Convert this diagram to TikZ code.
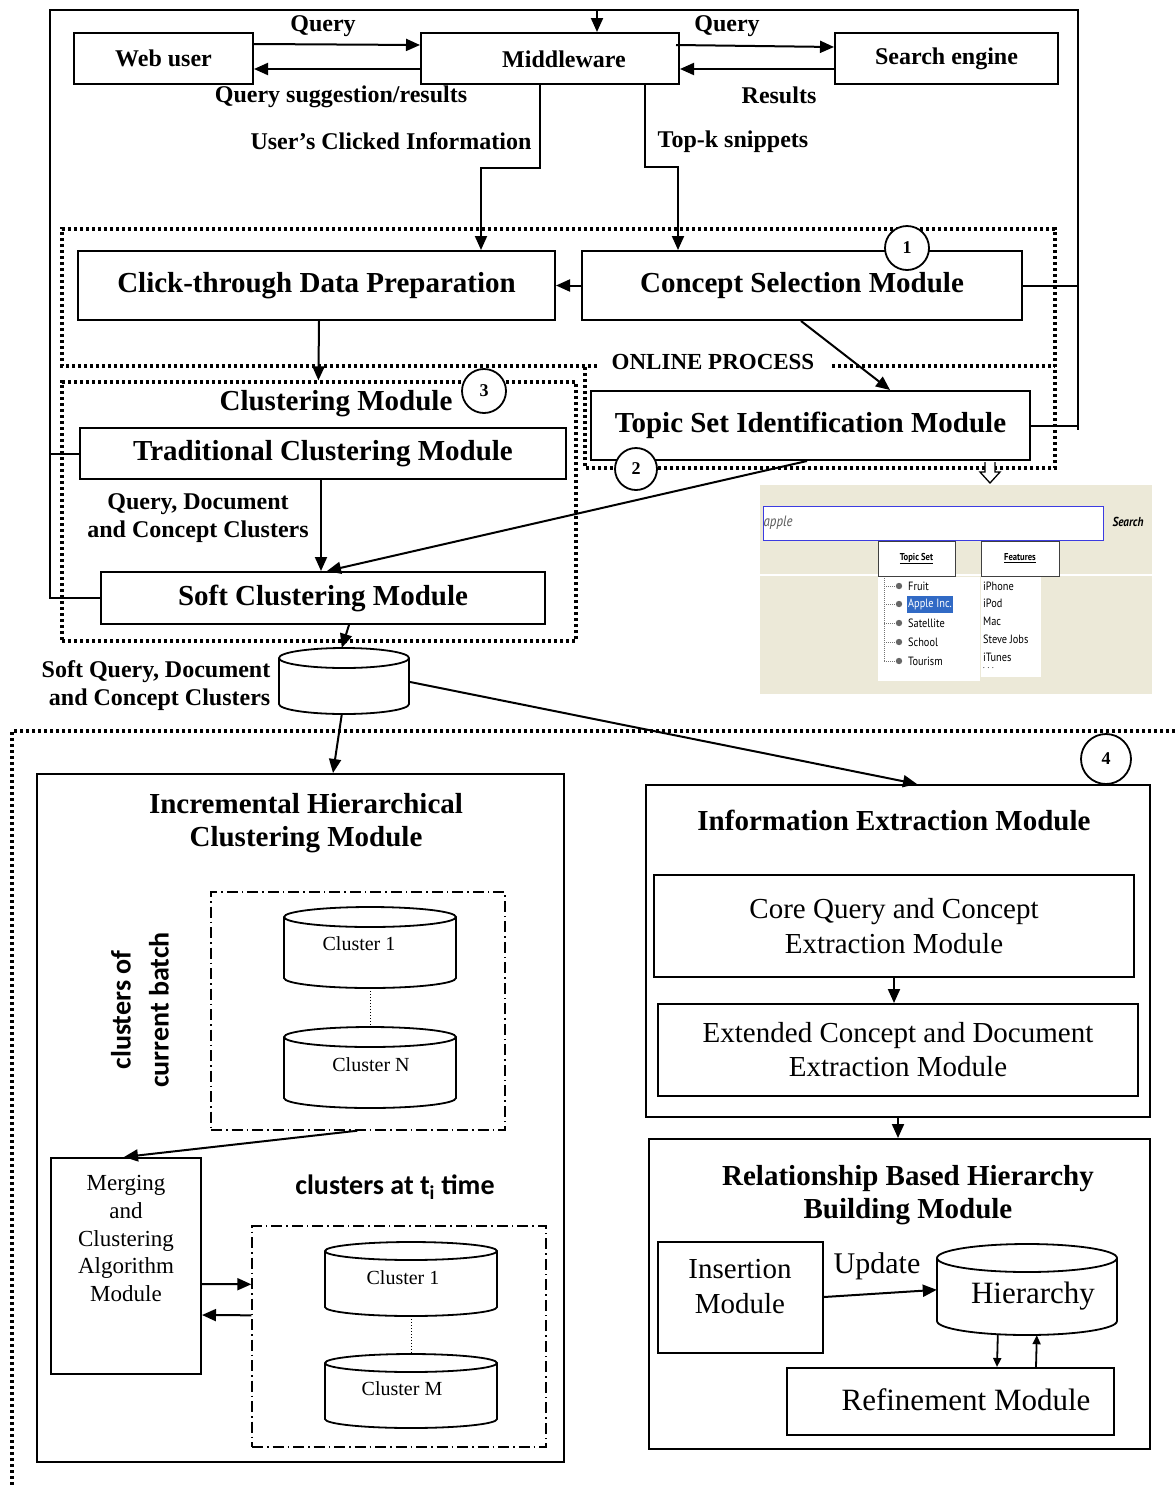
\documentclass[tikz,border=0pt]{standalone}
\usepackage{fontspec}
\setmainfont{Liberation Serif}
\newfontfamily\calfont{Carlito}
\newfontfamily\uifont[FakeStretch=0.86]{PT Sans}
\usetikzlibrary{arrows.meta,calc,fit}

\newcommand{\setfs}[2]{\fontsize{#1}{#2}\selectfont}
\definecolor{shotbg}{RGB}{236,233,216}
\definecolor{shotblue}{RGB}{60,60,225}
\definecolor{hiblue}{RGB}{49,106,197}

% cylinder: name, left, top, right, bottom, half-height of the end ellipse
\newcommand{\drum}[6]{%
  \pgfmathsetmacro{\drx}{(#4-#2)/2}%
  \draw[drumline] (#2,{#3+#6}) -- (#2,{#5-#6})
     arc[start angle=180, end angle=0, x radius=\drx, y radius=#6]
     -- (#4,{#3+#6})
     arc[start angle=0, end angle=-180, x radius=\drx, y radius=#6] -- cycle;
  \draw[drumline] (#2,{#3+#6}) arc[start angle=180, end angle=0, x radius=\drx, y radius=#6];
  \path (#2,#3) coordinate (#1-nw) (#4,#5) coordinate (#1-se);
  \node[fit=(#1-nw)(#1-se), inner sep=0] (#1) {};
}

\begin{document}
\begin{tikzpicture}[x=1pt,y=-1pt,
  lbl/.style={inner sep=0, font=\setfs{24}{28}\bfseries, align=center},
  ttl/.style={inner sep=0, font=\setfs{29}{33}\bfseries, align=center},
  txt/.style={inner sep=0, font=\setfs{29}{35}, align=center},
  box/.style={draw, line width=2pt, fill=white, inner sep=0},
  region/.style={line width=3.2pt, dash pattern=on 3.2pt off 2.8pt},
  dashdot/.style={draw, line width=1.4pt, dash pattern=on 11pt off 4pt on 1.5pt off 4pt},
  arr/.style={line width=2pt, -{Triangle[length=14pt,width=12pt]}},
  sarr/.style={line width=1.8pt, -{Triangle[length=9pt,width=8pt]}},
  wire/.style={line width=2pt},
  num/.style={draw, circle, line width=1.8pt, fill=white, minimum size=44pt, inner sep=0, font=\setfs{18}{20}\bfseries},
  drumline/.style={line width=1.8pt, fill=white},
  thindot/.style={line width=1pt, dash pattern=on 1pt off 2pt},
  clab/.style={inner sep=0, font=\setfs{20}{22}},
  tab/.style={draw=black!75, line width=1pt, fill=white, inner sep=0, minimum height=35pt, font=\uifont\bfseries\setfs{10}{12}},
  item/.style={anchor=west, inner sep=0, font=\uifont\setfs{12}{14}}
]
\useasboundingbox (0,0) rectangle (1175,1486);

% ---------- dotted process regions ----------
\node[inner sep=0, font=\setfs{23}{26}\bfseries] (online) at (713,362) {ONLINE PROCESS};
\draw[region] (597,366) -- (62,366) -- (62,229) -- (1055,229) -- (1055,468) -- (585,468) -- (585,367);
\draw[region] (832,366) -- (1055,366);
\node[region, draw, minimum width=514pt, minimum height=259pt, inner sep=0] (clreg) at (319,511.5) {};
\draw[region] (1175,731) -- (12,731) -- (12,1486);

% ---------- top row ----------
\node[box, minimum width=179pt, minimum height=51pt, font=\setfs{24}{28}\bfseries] (web) at (163.5,58.5) {Web user};
\node[box, minimum width=258pt, minimum height=51pt] (mid) at (550,58.5) {};
\node[lbl] (midl) at (564,59) {Middleware};
\node[box, minimum width=223pt, minimum height=51pt, font=\setfs{24}{28}\bfseries] (search) at (946.5,58.5) {Search engine};

\node[lbl] (q1) at (323,26) {Query};
\node[lbl] (q2) at (727,26) {Query};
\node[lbl] (qsr) at (341,97) {Query suggestion/results};
\node[lbl] (res) at (779,95) {Results};
\node[lbl] (uci) at (391,141) {User’s Clicked Information};
\node[lbl] (tks) at (733,142) {Top-k snippets};

% ---------- online modules ----------
\node[box, minimum width=477pt, minimum height=69pt, font=\setfs{29}{33}\bfseries] (click) at (316.5,285.5) {Click-through Data Preparation};
\node[box, minimum width=440pt, minimum height=69pt, font=\setfs{29}{33}\bfseries] (cs) at (802,285.5) {Concept Selection Module};
\node[box, minimum width=439pt, minimum height=69pt, font=\setfs{29}{33}\bfseries] (topic) at (810.5,425.5) {Topic Set Identification Module};

\node[ttl] (clt) at (336,404) {Clustering Module};
\node[box, minimum width=486pt, minimum height=51pt, font=\setfs{29}{33}\bfseries] (trad) at (323,453.5) {Traditional Clustering Module};
\node[lbl] (qdc) at (198,518) {Query, Document\\and Concept Clusters};
\node[box, minimum width=444pt, minimum height=52pt, font=\setfs{29}{33}\bfseries] (soft) at (323,598) {Soft Clustering Module};

\drum{softdb}{279}{648}{409}{714}{10}
\node[lbl, align=right] (sqdc) at (156,686) {Soft Query, Document\\and Concept Clusters};

% ---------- feedback frame ----------
\coordinate (ftl) at (50,10);
\coordinate (ftr) at (1078,10);
\draw[wire] (cs.east) -- (cs.east -| ftr);
\draw[wire] (topic.east) -- (topic.east -| ftr);
\draw[wire] ($(topic.east -| ftr)+(0,4)$) -- (ftr) -- (ftl) -- (ftl |- soft.west) -- (soft.west);
\draw[wire] (ftl |- trad.west) -- (trad.west);
\draw[arr] ($(mid.north west)+(177,-23)$) -- ($(mid.north west)+(177,0)$);

% ---------- top connectors ----------
\draw[arr] ($(web.north east)+(0,12)$) -- ($(mid.north west)+(0,13)$);
\draw[arr] ($(mid.north west)+(0,37)$) -- ($(web.north east)+(0,37)$);
\draw[arr] ($(mid.north east)+(-4,13)$) -- ($(search.north west)+(0,15)$);
\draw[arr] ($(search.north west)+(0,37)$) -- ($(mid.north east)+(0,37)$);
\draw[arr] ($(mid.south west)+(120,0)$) |- ($(click.north west)+(404,-82)$) -- ($(click.north west)+(404,0)$);
\draw[arr] ($(mid.south west)+(225,0)$) |- ($(cs.north west)+(97,-83)$) -- ($(cs.north west)+(97,0)$);

% ---------- online connectors ----------
\draw[arr] (cs.west) -- (click.east);
\draw[arr] ($(cs.south west)+(220,0)$) -- ($(topic.north west)+(300,0)$);
\draw[arr] ($(click.south west)+(242,0)$) -- ($(clreg.north west)+(258,0)$);
\draw[arr] ($(trad.south west)+(242,0)$) -- ($(soft.north west)+(221,0)$);
\draw[arr] ($(topic.south west)+(217,0)$) -- ($(soft.north west)+(227,0)$);
\draw[arr] ($(soft.south west)+(249,0)$) -- ($(softdb.north west)+(63,0)$);

% result preview arrow
\draw[line width=1.3pt, fill=white] (985,462) -- (985,472) -- (980,472) -- (990,483) -- (1000,472) -- (995,472) -- (995,462);

% ---------- search result preview ----------
\fill[shotbg] (760,485) rectangle (1152,694);
\draw[white, line width=1.2pt] (760,575) -- (1152,575);
\node[draw=shotblue, line width=1pt, fill=white, minimum width=340pt, minimum height=34pt, inner sep=0] (sfield) at (933,523) {};
\node[anchor=west, inner sep=0, font=\uifont\itshape\setfs{15}{17}, text=black!65] (sq) at ($(sfield.west)+(1,0)$) {apple};
\node[inner sep=0, font=\uifont\bfseries\itshape\setfs{13}{15}] (sbtn) at (1128,522) {Search};
\node[tab, minimum width=77pt] (ttab) at (916.5,558.5) {\underline{Topic Set}};
\node[tab, minimum width=78pt] (ftab) at (1020,558.5) {\underline{Features}};
\fill[white] (878,577) rectangle (980,681);
\fill[white] (981,577) rectangle (1041,677);
\draw[black!55, line width=0.6pt, dash pattern=on 1pt off 1pt] (884,578) -- (884,661);
\foreach \yy in {586,604,623,642,661} {
  \draw[black!55, line width=0.6pt, dash pattern=on 1pt off 1pt] (884,\yy) -- (895,\yy);
  \fill[black!60] (899,\yy) circle[radius=3.2];
}
\node[item] (t1) at (908,586) {Fruit};
\node[item, text=white, fill=hiblue, inner xsep=1.5pt, inner ysep=3pt] (t2) at (906.5,604.5) {Apple Inc.};
\node[item] (t3) at (908,623) {Satellite};
\node[item] (t4) at (908,642) {School};
\node[item] (t5) at (908,661) {Tourism};
\node[item] (f1) at (983,586) {iPhone};
\node[item] (f2) at (983,603.5) {iPod};
\node[item] (f3) at (983,621) {Mac};
\node[item] (f4) at (983,639) {Steve Jobs};
\node[item] (f5) at (983,657) {iTunes};
\node[item, font=\uifont\setfs{9}{10}] (f6) at (983,668) {. . .};

% ---------- incremental hierarchical clustering ----------
\node[box, minimum width=527pt, minimum height=688pt] (inc) at (300.5,1118) {};
\node[ttl] (inct) at (306,823) {Incremental Hierarchical\\Clustering Module};
\node[dashdot, minimum width=294pt, minimum height=238pt, inner sep=0] (batch) at (358,1011) {};
\drum{ca}{284}{907}{456}{988}{10}
\drum{cn}{284}{1027}{456}{1108}{10}
\draw[thindot] (ca.south -| 370,0) -- (cn.north -| 370,0);
\node[clab] (cal) at (359,944) {Cluster 1};
\node[clab] (cnl) at (371,1065) {Cluster N};
\node[inner sep=0, rotate=90, align=center, font=\calfont\bfseries\setfs{28}{38}] (cob) at (140,1010) {clusters of\\current batch};

\node[box, minimum width=150pt, minimum height=216pt] (merge) at (126,1266) {};
\node[inner sep=0, align=center, font=\setfs{23}{27.7}] (mergel) at (126,1238.5) {Merging\\and\\Clustering\\Algorithm\\Module};
\node[inner sep=0, font=\calfont\bfseries\setfs{28}{32}] (cat) at (395,1187) {clusters at t\textsubscript{i} time};
\node[dashdot, minimum width=294pt, minimum height=221pt, inner sep=0] (tbox) at (399,1336.5) {};
\drum{cb}{325}{1242}{497}{1316}{9}
\drum{cm}{325}{1354}{497}{1428}{9}
\draw[thindot] (cb.south -| 411,0) -- (cm.north -| 411,0);
\node[clab] (cbl) at (403,1278) {Cluster 1};
\node[clab] (cml) at (402,1389) {Cluster M};

\draw[arr] ($(batch.south west)+(147,0)$) -- ($(merge.north west)+(74,0)$);
\draw[arr] ($(merge.north east)+(0,127)$) -- ($(tbox.north west)+(0,59)$);
\draw[arr] ($(tbox.north west)+(0,90)$) -- ($(merge.north east)+(0,158)$);

% ---------- information extraction ----------
\node[box, minimum width=504pt, minimum height=332pt] (info) at (898,951) {};
\node[ttl] (infot) at (894,820) {Information Extraction Module};
\node[box, minimum width=480pt, minimum height=102pt, font=\setfs{29}{35}, align=center] (core) at (894,926) {Core Query and Concept\\Extraction Module};
\node[box, minimum width=480pt, minimum height=92pt, font=\setfs{29}{34}, align=center] (ext) at (898,1050) {Extended Concept and Document\\Extraction Module};
\draw[arr] (core.south) -- (core.south |- ext.north);

% ---------- hierarchy building ----------
\node[box, minimum width=501pt, minimum height=310pt] (rel) at (899.5,1294) {};
\node[ttl] (relt) at (908,1195) {Relationship Based Hierarchy\\Building Module};
\node[box, minimum width=165pt, minimum height=111pt] (ins) at (740.5,1297.5) {};
\node[txt] (insl) at (740,1287) {Insertion\\Module};
\drum{hier}{937}{1244}{1117}{1335}{14}
\node[inner sep=0, font=\setfs{31}{35}] (hierl) at (1033,1296) {Hierarchy};
\node[inner sep=0, font=\setfs{30}{34}] (upd) at (877,1266) {Update};
\node[box, minimum width=327pt, minimum height=67pt] (ref) at (950.5,1401.5) {};
\node[inner sep=0, font=\setfs{31}{35}] (refl) at (966,1400) {Refinement Module};
\draw[arr] ($(ins.north east)+(0,56)$) -- ($(hier.north west)+(0,46)$);
\draw[sarr] ($(hier.south west)+(61,0)$) -- ($(ref.north west)+(211,0)$);
\draw[sarr] ($(ref.north west)+(250,0)$) -- ($(hier.south west)+(100,0)$);

% ---------- flows into the offline stage ----------
\draw[arr] ($(softdb.south west)+(63,0)$) -- ($(inc.north west)+(297,0)$);
\draw[arr] ($(softdb.north east)+(0,34)$) -- ($(info.north west)+(272,0)$);
\draw[arr] ($(info.south west)+(253,0)$) -- ($(rel.north west)+(250,0)$);

% ---------- stage numbers ----------
\node[num] (n1) at (907,248) {1};
\node[num, minimum size=42pt] (n2) at (636,469) {2};
\node[num] (n3) at (484,391) {3};
\node[num, minimum size=50pt] (n4) at (1106,759) {4};
\end{tikzpicture}
\end{document}
